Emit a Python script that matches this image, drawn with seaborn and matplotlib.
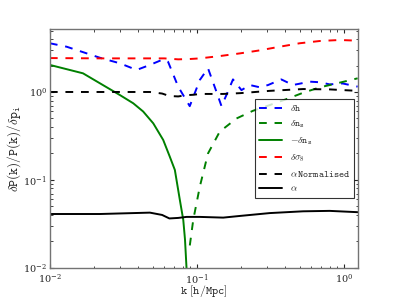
import matplotlib
matplotlib.use("Agg")
import matplotlib.pyplot as plt
import seaborn as sns

# values (log-log axes)
k_h = [0.010, 0.013, 0.0219, 0.0299, 0.0389, 0.0479, 0.0590, 0.0637, 0.0746, 0.0894, 0.1047,
       0.119, 0.136, 0.147, 0.160, 0.176, 0.201, 0.229, 0.268, 0.305, 0.375, 0.45, 0.587,
       0.687, 0.80, 0.98, 1.24]
dh = [3.58, 3.27, 2.45, 2.12, 1.78, 2.03, 2.35, 2.20, 1.15, 0.69, 1.37,
      1.86, 1.00, 0.69, 0.95, 1.39, 1.05, 1.20, 1.13, 1.20, 1.39, 1.20, 1.31,
      1.29, 1.22, 1.25, 1.15]

k_ns = [0.0895, 0.0944, 0.1047, 0.119, 0.143, 0.186, 0.24, 0.313, 0.407, 0.528,
        0.687, 0.89, 1.24]
dns = [0.018, 0.035, 0.084, 0.20, 0.354, 0.50, 0.61, 0.71, 0.83, 0.98,
       1.13, 1.25, 1.43]

k_mns = [0.010, 0.0168, 0.0299, 0.0369, 0.0431, 0.0505, 0.059, 0.0654, 0.0708, 0.0766,
         0.0808, 0.083, 0.0850, 0.0858]
mns = [2.03, 1.63, 0.924, 0.744, 0.60, 0.44, 0.285, 0.184, 0.13, 0.059,
       0.035, 0.021, 0.010, 0.004]

k_s8 = [0.010, 0.0219, 0.040, 0.060, 0.0746, 0.0894, 0.1047, 0.143, 0.197, 0.26, 0.366,
        0.50, 0.687, 0.935, 1.24]
ds8 = [2.43, 2.41, 2.41, 2.41, 2.35, 2.37, 2.41, 2.56, 2.75, 2.95, 3.27,
       3.58, 3.80, 3.90, 3.83]

k_a = [0.010, 0.0219, 0.0479, 0.0580, 0.0650, 0.0746, 0.0850, 0.0950, 0.1047, 0.151, 0.197,
       0.313, 0.528, 0.80, 1.24]
a_norm = [1.00, 1.00, 1.00, 0.96, 0.90, 0.89, 0.92, 0.93, 0.95, 0.95, 0.97,
          1.03, 1.08, 1.07, 1.03]
alpha = [0.041, 0.041, 0.0425, 0.040, 0.0365, 0.037, 0.038, 0.038, 0.038, 0.0373, 0.039,
         0.042, 0.044, 0.0445, 0.043]

sns.set_style("ticks")
plt.rcParams["mathtext.fontset"] = "cm"
plt.rcParams["font.family"] = ["DejaVu Serif"]
plt.rcParams["xtick.direction"] = "in"
plt.rcParams["ytick.direction"] = "in"
plt.rcParams["xtick.top"] = True
plt.rcParams["ytick.right"] = True

fig, ax = plt.subplots(figsize=(3.99, 2.99), dpi=100)
fig.subplots_adjust(left=0.125, right=0.897, bottom=0.104, top=0.903)

dash = (4, 4)
series = [
    (k_h, dh, "b", True, r"$\delta\mathtt{h}$"),
    (k_ns, dns, "g", True, r"$\delta\mathtt{n_s}$"),
    (k_mns, mns, "g", False, r"$-\delta\mathtt{n_s}$"),
    (k_s8, ds8, "r", True, r"$\delta\sigma_8$"),
    (k_a, a_norm, "k", True, r"$\alpha\,\mathtt{Normalised}$"),
    (k_a, alpha, "k", False, r"$\alpha$"),
]
for kk, vv, c, dashed, lab in series:
    sns.lineplot(x=kk, y=vv, ax=ax, color=c, lw=1.4, label=lab)
    if dashed:
        ax.lines[-1].set_dashes(dash)

ax.set_xscale("log")
ax.set_yscale("log")
ax.set_xlim(0.01, 1.245)
ax.set_ylim(0.01, 5.2)
ax.tick_params(labelsize=7, length=3)
ax.tick_params(axis="x", pad=3)
ax.tick_params(axis="y", pad=2)
ax.tick_params(which="minor", length=1.8)
for sp in ax.spines.values():
    sp.set_color("0.45")
    sp.set_linewidth(1.0)

ax.set_xlabel(r"$\mathtt{k\ [h/Mpc]}$", fontsize=8.5)
ax.xaxis.set_label_coords(0.5, -0.063)
ax.set_ylabel(r"$\mathtt{\delta P(k)/P(k)/\delta p_i}$", fontsize=9.5, labelpad=0)

leg = ax.legend(loc="center right", fontsize=7, frameon=True, fancybox=False,
                handlelength=2.3, borderaxespad=0.4, labelspacing=0.55)
leg.get_frame().set_edgecolor("k")
leg.get_frame().set_linewidth(0.8)
for h, (_, _, _, dashed, _) in zip(leg.get_lines(), series):
    if dashed:
        h.set_dashes(dash)

fig.savefig("out.png", dpi=100)
